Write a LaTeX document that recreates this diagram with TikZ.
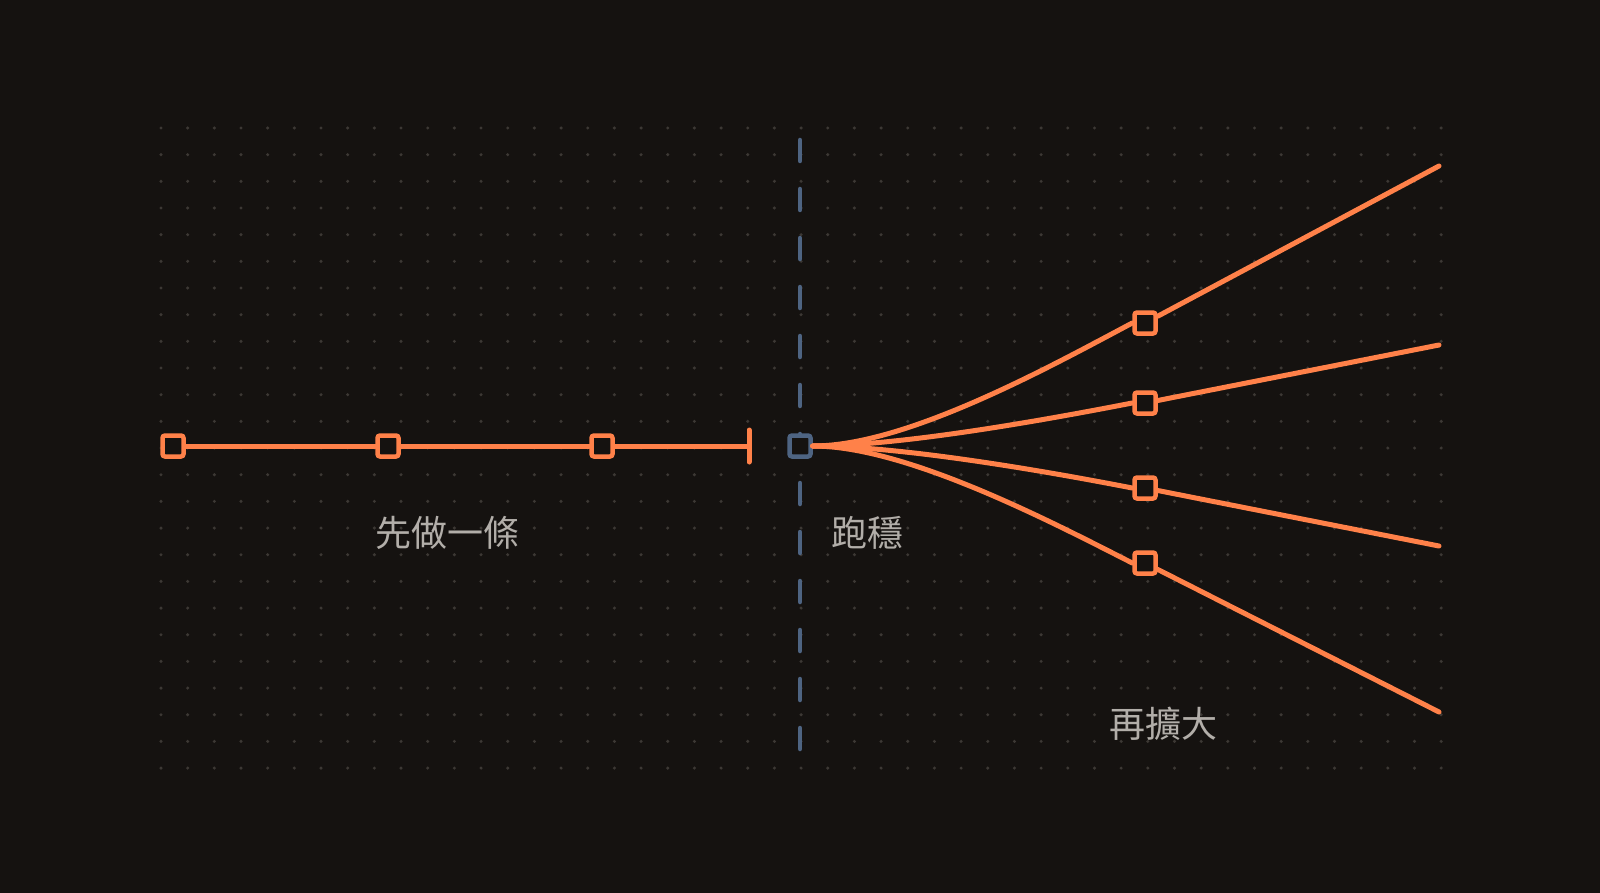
\documentclass[tikz,border=0pt]{standalone}
\usepackage{fontspec}
\newfontfamily\cjk{Noto Sans CJK TC}
\definecolor{bg}{HTML}{151210}
\definecolor{org}{HTML}{FF8149}
\definecolor{blu}{HTML}{4E6482}
\definecolor{dotc}{HTML}{3C3834}
\definecolor{txt}{HTML}{B2AEA9}
\begin{document}
\begin{tikzpicture}[x=1pt,y=-1pt,
  sq/.style={draw=#1,line width=4.5pt,fill=bg,minimum size=21pt,inner sep=0pt,rounded corners=2.5pt},
  ln/.style={draw=org,line width=5pt,line cap=round},
  lab/.style={text=txt,font=\cjk\fontsize{36}{40}\selectfont}]
\fill[bg] (0,0) rectangle (1600,893);
\useasboundingbox (0,0) rectangle (1600,893);
\foreach \i in {0,...,48}{\foreach \j in {0,...,24}{
  \fill[dotc] (161+\i*26.67,128+\j*26.67) circle (1.7pt);}}
\coordinate (dt) at (800,140);
\coordinate (db) at (800,755);
\draw[blu,line width=4.5pt,line cap=round,dash pattern=on 21pt off 28pt] (dt) -- (db);
\node[sq=org] (a1) at (173,446) {};
\node[sq=org] (a2) at (388,446) {};
\node[sq=org] (a3) at (602,446) {};
\coordinate (bar) at (749,446);
\coordinate (bt) at (749,430);
\coordinate (bb) at (749,462);
\draw[ln] (a1) -- (a2); \draw[ln] (a2) -- (a3); \draw[ln] (a3) -- (bar);
\draw[ln] (bt) -- (bb);
\node[sq=org] (b1) at (1145,323) {};
\node[sq=org] (b2) at (1145,403) {};
\node[sq=org] (b3) at (1145,488) {};
\node[sq=org] (b4) at (1145,563) {};
\coordinate (e1) at (1439,166);
\coordinate (e2) at (1439,345);
\coordinate (e3) at (1439,546);
\coordinate (e4) at (1439,712);
\node[sq=blu] (c) at (800,446) {};
\draw[ln] (c.east) to[out=0,in=208,looseness=0.7] (b1.west);
\draw[ln] (c.east) to[out=0,in=191,looseness=0.7] (b2.west);
\draw[ln] (c.east) to[out=0,in=169,looseness=0.7] (b3.west);
\draw[ln] (c.east) to[out=0,in=153,looseness=0.7] (b4.west);
\draw[ln] (b1) -- (e1); \draw[ln] (b2) -- (e2);
\draw[ln] (b3) -- (e3); \draw[ln] (b4) -- (e4);
\node[lab] (t1) at (447,533) {先做一條};
\node[lab] (t2) at (867,533) {跑穩};
\node[lab] (t3) at (1163,724) {再擴大};
\end{tikzpicture}
\end{document}
